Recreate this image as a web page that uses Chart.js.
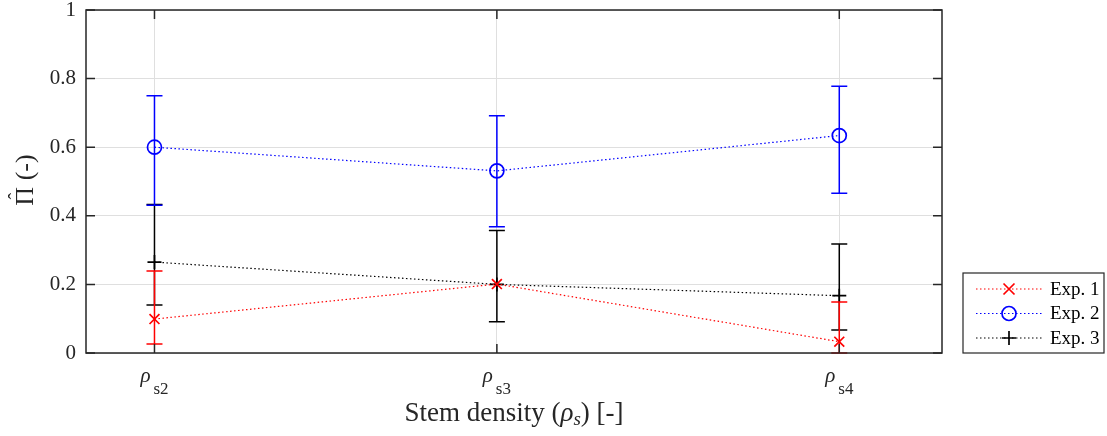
<!DOCTYPE html>
<html>
<head>
<meta charset="utf-8">
<script src="https://cdn.jsdelivr.net/npm/chart.js@4/dist/chart.umd.min.js"></script>
<style>
  html, body { margin: 0; padding: 0; background: #fff; }
  #wrap { width: 1107px; height: 436px; position: relative; }
</style>
</head>
<body>
<div id="wrap"><canvas id="chart"></canvas></div>
<script>
// Stem density categories (rho subscripts) and their x positions
const categorySubs = ["s2", "s3", "s4"];
const xPositions = [1, 2, 3];
const yTicks = [0, 0.2, 0.4, 0.6, 0.8, 1];

// Exp. 1 (red, x markers)
const exp1Mean = [0.099, 0.201, 0.033];
const exp1Upper = [0.239, 0.201, 0.149];
const exp1Lower = [0.026, 0.201, 0.0];

// Exp. 2 (blue, circles)
const exp2Mean = [0.600, 0.531, 0.634];
const exp2Upper = [0.750, 0.692, 0.778];
const exp2Lower = [0.431, 0.368, 0.466];

// Exp. 3 (black, plus)
const exp3Mean = [0.265, 0.200, 0.167];
const exp3Upper = [0.433, 0.357, 0.318];
const exp3Lower = [0.140, 0.091, 0.067];

const AXIS = "#262626";
const GRID = "#dfdfdf";
const SERIF = "'Liberation Serif', 'DejaVu Serif', serif";

function series(label, color, style, radius, mean, lower, upper) {
  return {
    label,
    data: xPositions.map((x, i) => ({ x, y: mean[i] })),
    lower,
    upper,
    showLine: true,
    borderColor: color,
    borderWidth: 1.2,
    borderDash: [1.5, 2.5],
    pointStyle: style,
    pointRadius: radius,
    pointBorderWidth: 1.7,
    pointBorderColor: color,
    pointBackgroundColor: "rgba(0,0,0,0)",
    tension: 0,
  };
}

// Vertical error bars with caps, drawn just before each dataset
const errorBars = {
  id: "errorBars",
  beforeDatasetDraw(chart, args) {
    const ds = chart.data.datasets[args.index];
    const { ctx, scales: { x, y } } = chart;
    ctx.save();
    ctx.strokeStyle = ds.borderColor;
    ctx.lineWidth = 1.5;
    ds.data.forEach((p, i) => {
      if (ds.lower[i] === ds.upper[i]) return;
      const px = x.getPixelForValue(p.x);
      const top = y.getPixelForValue(ds.upper[i]);
      const bot = y.getPixelForValue(ds.lower[i]);
      ctx.beginPath();
      ctx.moveTo(px, top); ctx.lineTo(px, bot);
      ctx.moveTo(px - 8, top); ctx.lineTo(px + 8, top);
      ctx.moveTo(px - 8, bot); ctx.lineTo(px + 8, bot);
      ctx.stroke();
    });
    ctx.restore();
  },
};

function drawMarker(ctx, style, cx, cy, color) {
  ctx.save();
  ctx.strokeStyle = color;
  ctx.lineWidth = 1.7;
  ctx.beginPath();
  if (style === "circle") {
    ctx.arc(cx, cy, 7, 0, Math.PI * 2);
  } else if (style === "crossRot") {
    const r = 5.5;
    ctx.moveTo(cx - r, cy - r); ctx.lineTo(cx + r, cy + r);
    ctx.moveTo(cx - r, cy + r); ctx.lineTo(cx + r, cy - r);
  } else {
    const r = 7;
    ctx.moveTo(cx - r, cy); ctx.lineTo(cx + r, cy);
    ctx.moveTo(cx, cy - r); ctx.lineTo(cx, cy + r);
  }
  ctx.stroke();
  ctx.restore();
}

// Box, inward ticks, rho tick labels, axis titles and legend
const frame = {
  id: "frame",
  afterDraw(chart) {
    const { ctx, chartArea: a, scales: { x, y } } = chart;
    ctx.save();
    ctx.strokeStyle = AXIS;
    ctx.lineWidth = 1.5;
    ctx.strokeRect(a.left, a.top, a.right - a.left, a.bottom - a.top);
    ctx.beginPath();
    xPositions.forEach((v) => {
      const px = x.getPixelForValue(v);
      ctx.moveTo(px, a.bottom); ctx.lineTo(px, a.bottom - 9);
      ctx.moveTo(px, a.top); ctx.lineTo(px, a.top + 9);
    });
    yTicks.forEach((v) => {
      const py = y.getPixelForValue(v);
      ctx.moveTo(a.left, py); ctx.lineTo(a.left + 9, py);
      ctx.moveTo(a.right, py); ctx.lineTo(a.right - 9, py);
    });
    ctx.stroke();

    // x tick labels: rho with subscript
    ctx.fillStyle = AXIS;
    ctx.textBaseline = "alphabetic";
    ctx.textAlign = "left";
    xPositions.forEach((v, i) => {
      const px = x.getPixelForValue(v);
      ctx.font = "italic 21px " + SERIF;
      const w1 = ctx.measureText("\u03C1").width;
      ctx.font = "17px " + SERIF;
      const w2 = ctx.measureText(categorySubs[i]).width;
      const x0 = px - (w1 + w2 + 3) / 2;
      ctx.font = "italic 21px " + SERIF;
      ctx.fillText("\u03C1", x0, 382);
      ctx.font = "17px " + SERIF;
      ctx.fillText(categorySubs[i], x0 + w1 + 3, 394);
    });

    // x axis title
    const parts = [
      { t: "Stem density (", f: "27px " + SERIF, dy: 0 },
      { t: "\u03C1", f: "italic 27px " + SERIF, dy: 0 },
      { t: "s", f: "italic 19px " + SERIF, dy: 4 },
      { t: ") [-]", f: "27px " + SERIF, dy: 0 },
    ];
    let total = 0;
    parts.forEach((p) => { ctx.font = p.f; p.w = ctx.measureText(p.t).width; total += p.w; });
    let cx = (a.left + a.right) / 2 - total / 2;
    parts.forEach((p) => { ctx.font = p.f; ctx.fillText(p.t, cx, 421 + p.dy); cx += p.w; });

    // y axis title: Pi with hat, rotated
    ctx.save();
    ctx.translate(33, 180);
    ctx.rotate(-Math.PI / 2);
    ctx.font = "26px " + SERIF;
    const wPi = ctx.measureText("\u03A0").width;
    const wRest = ctx.measureText(" (-)").width;
    const tx = -(wPi + wRest) / 2;
    ctx.fillText("\u03A0", tx, 0);
    ctx.fillText(" (-)", tx + wPi, 0);
    ctx.font = "20px " + SERIF;
    ctx.textAlign = "center";
    ctx.fillText("\u02C6", tx + wPi / 2, -10);
    ctx.restore();

    // legend
    const lx = 963, ly = 273, lw = 141, lh = 80;
    ctx.fillStyle = "#fff";
    ctx.fillRect(lx, ly, lw, lh);
    ctx.strokeStyle = AXIS;
    ctx.lineWidth = 1.2;
    ctx.strokeRect(lx, ly, lw, lh);
    chart.data.datasets.forEach((ds, i) => {
      const ry = 289 + i * 24.5;
      ctx.save();
      ctx.strokeStyle = ds.borderColor;
      ctx.lineWidth = ds.borderWidth;
      ctx.setLineDash(ds.borderDash);
      ctx.beginPath();
      ctx.moveTo(976, ry); ctx.lineTo(1042, ry);
      ctx.stroke();
      ctx.restore();
      drawMarker(ctx, ds.pointStyle, 1009, ry, ds.borderColor);
      ctx.fillStyle = "#000";
      ctx.font = "19px " + SERIF;
      ctx.textBaseline = "middle";
      ctx.fillText(ds.label, 1050, ry + 1);
      ctx.textBaseline = "alphabetic";
    });
    ctx.restore();
  },
};

new Chart(document.getElementById("chart"), {
  type: "scatter",
  data: {
    datasets: [
      series("Exp. 1", "#ff0000", "crossRot", 7, exp1Mean, exp1Lower, exp1Upper),
      series("Exp. 2", "#0000ff", "circle", 7, exp2Mean, exp2Lower, exp2Upper),
      series("Exp. 3", "#000000", "cross", 7, exp3Mean, exp3Lower, exp3Upper),
    ],
  },
  options: {
    responsive: true,
    maintainAspectRatio: false,
    animation: false,
    layout: { padding: { left: 0, right: 165, top: 10, bottom: 0 } },
    plugins: { legend: { display: false }, tooltip: { enabled: false } },
    scales: {
      x: {
        type: "linear",
        min: 0.8,
        max: 3.3,
        afterBuildTicks: (s) => { s.ticks = xPositions.map((v) => ({ value: v })); },
        afterFit: (s) => { s.height = 83; s.paddingLeft = 0; s.paddingRight = 0; },
        ticks: { display: false },
        grid: { color: GRID, lineWidth: 1, drawTicks: false },
        border: { display: false },
      },
      y: {
        min: 0,
        max: 1,
        afterBuildTicks: (s) => { s.ticks = yTicks.map((v) => ({ value: v })); },
        afterFit: (s) => { s.width = 86; s.paddingTop = 0; s.paddingBottom = 0; },
        ticks: {
          color: AXIS,
          padding: 10,
          font: { family: SERIF, size: 21 },
          callback: (v) => String(+v.toFixed(1)),
        },
        grid: { color: GRID, lineWidth: 1, drawTicks: false },
        border: { display: false },
      },
    },
  },
  plugins: [errorBars, frame],
});
</script>
</body>
</html>
